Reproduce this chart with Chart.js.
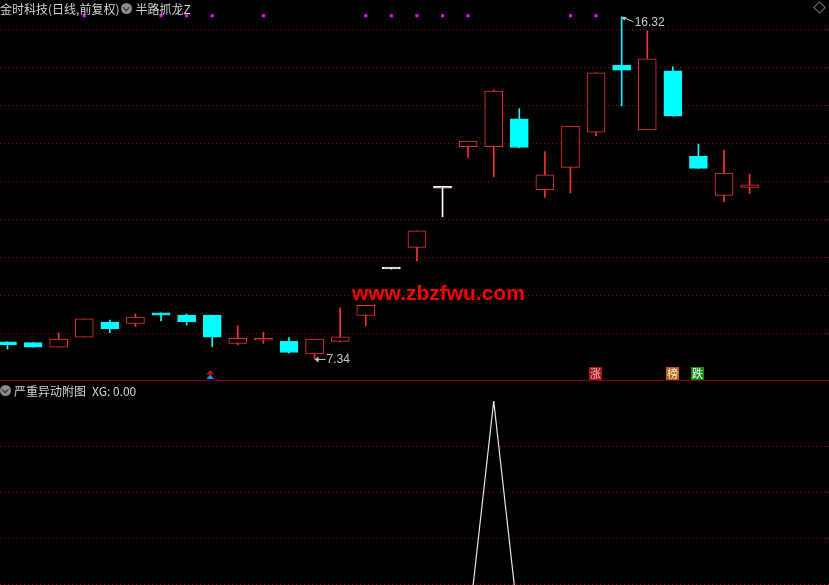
<!DOCTYPE html>
<html>
<head>
<meta charset="utf-8">
<title>金时科技 日线</title>
<script src="https://cdn.jsdelivr.net/npm/chart.js@4.4.1/dist/chart.umd.min.js"></script>
<style>
    body { margin: 0; background: #000; width: 829px; height: 585px; overflow: hidden; position: relative;
           font-family: "Noto Sans CJK SC", "Noto Sans", sans-serif; }
    #kChart { position: absolute; left: 0; top: 0; }
    #subChart { position: absolute; left: 0; top: 381px; }
    .sep { position: absolute; left: 0; top: 380px; width: 829px; height: 1px; background: #7a0000; }
    .title { position: absolute; left: 0; font-size: 12px; line-height: 14px; color: #d4d4d4; white-space: nowrap; }
    .title span { vertical-align: middle; }
    .ic { display: inline-block; width: 11px; height: 11px; border-radius: 50%; background: #8c8c8c;
          position: relative; vertical-align: middle; margin: 0 3px 0 2px; }
    .ic:after { content: ""; position: absolute; left: 3px; top: 1.5px; width: 3.5px; height: 3.5px;
                border-right: 1.5px solid #202020; border-bottom: 1.5px solid #202020; transform: rotate(45deg); }
    .diamond { position: absolute; left: 815px; top: 3px; width: 7px; height: 7px; border: 1px solid #7c7c7c;
               transform: rotate(45deg); }
    .mark { position: absolute; left: 352px; top: 282px; font: bold 20px "Liberation Sans", Arial, sans-serif;
            color: #ff0000; white-space: nowrap; transform-origin: 0 0; }
</style>
</head>
<body>

<canvas id="kChart" width="829" height="381"></canvas>
<div class="sep"></div>
<canvas id="subChart" width="829" height="260"></canvas>

<div class="title" style="top:0px"><span>金时科技(日线,前复权)</span><i class="ic"></i><span>半路抓龙Z</span></div>
<div class="title" id="subTitle" style="top:382px;left:-2px"><i class="ic"></i><span>严重异动附图</span><span id="xgText" style="margin-left:6px"></span></div>
<div class="diamond"></div>
<div class="mark" id="mark">www.zbzfwu.com</div>

<script>
// ---------------- DATA ----------------
const opens  = [7.79, 7.77, 7.65, 7.91, 8.31, 8.27, 8.55, 8.49, 8.49, 7.75,
                7.83, 7.80, 7.47, 7.80, 8.48, 9.70, 10.27, 11.82, 12.91, 12.91,
                13.64, 11.78, 12.37, 13.29, 15.05, 13.35, 14.90, 12.66, 11.63, 11.84];
const highs  = [7.79, 7.77, 8.02, 8.39, 8.36, 8.52, 8.55, 8.52, 8.49, 8.21,
                8.04, 7.90, 7.86, 8.68, 8.75, 9.70, 10.70, 11.82, 13.06, 14.40,
                13.91, 12.78, 13.45, 14.85, 16.32, 15.95, 15.01, 12.98, 12.82, 12.19];
const lows   = [7.60, 7.65, 7.65, 7.91, 8.03, 8.19, 8.34, 8.23, 7.66, 7.71,
                7.75, 7.49, 7.34, 7.80, 8.21, 9.70, 9.91, 11.07, 12.63, 12.12,
                12.89, 11.58, 11.70, 13.20, 13.98, 13.35, 13.71, 12.34, 11.47, 11.68];
const closes = [7.71, 7.65, 7.86, 8.39, 8.13, 8.44, 8.49, 8.31, 7.91, 7.88,
                7.84, 7.51, 7.86, 7.92, 8.75, 9.70, 10.70, 11.82, 13.06, 14.37,
                12.89, 12.17, 13.45, 14.85, 14.92, 15.22, 13.71, 12.34, 12.22, 11.91];

// signal dots along the top (bar index) and the level they sit at
const signalIdx = [3, 6, 7, 8, 10, 14, 15, 16, 17, 18, 22, 23];
const signalLevel = 16.35;

// small flags at the bottom of the price panel
const arrowIdx = [8];
const flags = [
    { idx: 23, text: "涨", bg: "#a01818", fg: "#f2b8b8" },
    { idx: 26, text: "榜", bg: "#b0601a", fg: "#fff0d8" },
    { idx: 27, text: "跌", bg: "#138a13", fg: "#ffffff" }
];

// sub chart values (严重异动)
const xg = [0, 0, 0, 0, 0, 0, 0, 0, 0, 0,
            0, 0, 0, 0, 0, 0, 0, 0, 0, 1,
            0, 0, 0, 0, 0, 0, 0, 0, 0, 0];

const priceTicks = [8, 9, 10, 11, 12, 13, 14, 15, 16];
const xgTicks = [0.2, 0.4, 0.6, 0.8];

// ---------------- LAYOUT ----------------
const slot = 25.59;
const xMin = -7.5 / slot;
const xMax = xMin + 829 / slot;
const pxPerUnit = 38.1;
const yMax = 16 + 29 / pxPerUnit;
const yMin = yMax - 381 / pxPerUnit;

const RED = "rgb(240,52,52)";
const CYAN = "#00ffff";
const GRID = "rgb(150,0,0)";

function candleColor(i) {
    if (closes[i] > opens[i]) return RED;
    if (closes[i] < opens[i]) return CYAN;
    return "#ffffff";
}

// ---------------- ANNOTATIONS ----------------
const markPlugin = {
    id: "marks",
    afterDatasetsDraw(chart) {
        const ctx = chart.ctx;
        const xs = chart.scales.x, ys = chart.scales.y;
        ctx.save();

        // highest high / lowest low
        let hi = 0, lo = 0;
        highs.forEach((v, i) => { if (v > highs[hi]) hi = i; });
        lows.forEach((v, i) => { if (v < lows[lo]) lo = i; });

        ctx.strokeStyle = "#c8c8c8";
        ctx.fillStyle = "#c8c8c8";
        ctx.lineWidth = 1;
        ctx.font = '12px "Liberation Sans", Arial, sans-serif';
        ctx.textBaseline = "middle";

        // ↖ 16.32
        let hx = xs.getPixelForValue(hi), hy = ys.getPixelForValue(highs[hi]);
        ctx.beginPath();
        ctx.moveTo(hx + 1, hy + 0.5);
        ctx.lineTo(hx + 12, hy + 5);
        ctx.stroke();
        ctx.beginPath();
        ctx.moveTo(hx, hy);
        ctx.lineTo(hx + 5, hy + 0.2);
        ctx.lineTo(hx + 2.5, hy + 4);
        ctx.closePath();
        ctx.fill();
        ctx.fillText(highs[hi].toFixed(2), hx + 13, hy + 6);

        // ← 7.34
        let lx = xs.getPixelForValue(lo), ly = ys.getPixelForValue(lows[lo]);
        ctx.beginPath();
        ctx.moveTo(lx + 1, ly + 0.5);
        ctx.lineTo(lx + 11, ly + 0.5);
        ctx.stroke();
        ctx.beginPath();
        ctx.moveTo(lx, ly + 0.5);
        ctx.lineTo(lx + 4, ly - 2.5);
        ctx.lineTo(lx + 4, ly + 3.5);
        ctx.closePath();
        ctx.fill();
        ctx.fillText(lows[lo].toFixed(2), lx + 12, ly + 1);

        // red / blue arrows
        arrowIdx.forEach(i => {
            let ax = xs.getPixelForValue(i) - 2;
            [["#e00000", 370], ["#1e90ff", 374.5]].forEach(([c, ty]) => {
                ctx.fillStyle = c;
                ctx.beginPath();
                ctx.moveTo(ax, ty);
                ctx.lineTo(ax + 4, ty + 4.5);
                ctx.lineTo(ax - 4, ty + 4.5);
                ctx.closePath();
                ctx.fill();
            });
        });

        // 涨 榜 跌 flags
        ctx.font = '11px "Noto Sans CJK SC", sans-serif';
        ctx.textAlign = "center";
        flags.forEach(f => {
            let fx = Math.round(xs.getPixelForValue(f.idx));
            ctx.fillStyle = f.bg;
            ctx.fillRect(fx - 7, 367, 13, 13);
            ctx.fillStyle = f.fg;
            ctx.fillText(f.text, fx - 0.5, 373.5);
        });

        ctx.restore();
    }
};

// ---------------- PRICE CHART ----------------
const idx = opens.map((_, i) => i);

new Chart(document.getElementById("kChart"), {
    type: "bar",
    data: {
        datasets: [
            {
                type: "scatter",
                data: signalIdx.map(i => ({ x: i, y: signalLevel })),
                pointStyle: "rect",
                pointRadius: 2.2,
                pointHoverRadius: 2.2,
                borderWidth: 0,
                backgroundColor: "#ff00ff",
                order: 0
            },
            {
                data: idx.map(i => ({ x: i, y: [opens[i], closes[i]] })),
                barThickness: 18,
                grouped: false,
                minBarLength: 2,
                borderWidth: 1,
                borderSkipped: false,
                borderColor: c => candleColor(c.dataIndex),
                backgroundColor: c => candleColor(c.dataIndex) === RED ? "#000" : candleColor(c.dataIndex),
                order: 1
            },
            {
                data: idx.map(i => ({ x: i, y: [lows[i], highs[i]] })),
                barThickness: 1,
                grouped: false,
                minBarLength: 1,
                borderWidth: 0,
                backgroundColor: c => candleColor(c.dataIndex),
                order: 2
            }
        ]
    },
    options: {
        responsive: false,
        animation: false,
        layout: { padding: 0, autoPadding: false },
        plugins: { legend: { display: false }, tooltip: { enabled: false } },
        scales: {
            x: { type: "linear", min: xMin, max: xMax, offset: false, display: false },
            y: {
                min: yMin, max: yMax,
                afterBuildTicks: s => { s.ticks = priceTicks.map(v => ({ value: v })); },
                afterFit: s => { s.width = 0; },
                ticks: { display: false },
                border: { display: false, dash: [1, 3] },
                grid: { color: GRID, lineWidth: 1, drawTicks: false }
            }
        }
    },
    plugins: [markPlugin]
});

// ---------------- SUB CHART ----------------
new Chart(document.getElementById("subChart"), {
    type: "line",
    data: {
        datasets: [{
            data: idx.map(i => ({ x: i, y: xg[i] })),
            borderColor: "#e8e8e8",
            borderWidth: 1.2,
            pointRadius: 0,
            tension: 0
        }]
    },
    options: {
        responsive: false,
        animation: false,
        layout: { padding: { top: 20, bottom: 11, left: 0, right: 0 }, autoPadding: false },
        plugins: { legend: { display: false }, tooltip: { enabled: false } },
        scales: {
            x: { type: "linear", min: xMin, max: xMax, offset: false, display: false },
            y: {
                min: 0, max: 1,
                afterBuildTicks: s => { s.ticks = xgTicks.map(v => ({ value: v })); },
                afterFit: s => { s.width = 0; },
                ticks: { display: false },
                border: { display: false, dash: [1, 3] },
                grid: { color: GRID, lineWidth: 1, drawTicks: false }
            }
        }
    }
});

document.getElementById("xgText").innerText = "XG: " + xg[xg.length - 1].toFixed(2);

// stretch the watermark to its width in the picture
const mark = document.getElementById("mark");
mark.style.transform = "scale(" + (173 / mark.offsetWidth) + ",1)";
</script>
</body>
</html>
